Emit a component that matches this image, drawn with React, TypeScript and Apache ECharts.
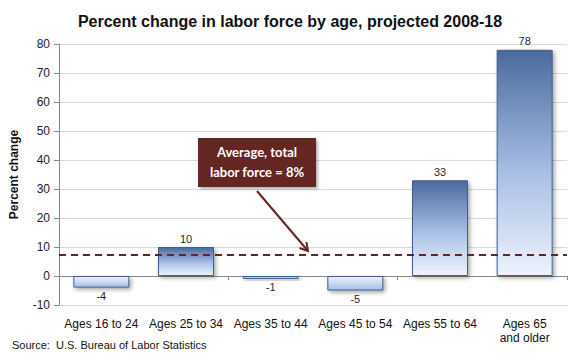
import React, { useEffect, useRef } from "react";
import * as echarts from "echarts";

const categories = ["Ages 16 to 24", "Ages 25 to 34", "Ages 35 to 44", "Ages 45 to 54", "Ages 55 to 64", "Ages 65\nand older"];
const values = [-4, 10, -1, -5, 33, 78];
const averageValue = 7.4;
const yTicks = { min: -10, max: 80, interval: 10 };

const posGradient = new echarts.graphic.LinearGradient(0, 0, 0, 1, [
  { offset: 0, color: "#4a6a9c" },
  { offset: 0.55, color: "#a9c0e6" },
  { offset: 1, color: "#eef3fc" },
]);
const negGradient = new echarts.graphic.LinearGradient(0, 0, 0, 1, [
  { offset: 0, color: "#eef3fc" },
  { offset: 0.5, color: "#c9d8f2" },
  { offset: 1, color: "#a9bde0" },
]);

export default function App() {
  const ref = useRef<HTMLDivElement>(null);
  useEffect(() => {
    document.body.style.margin = "0";
    const chart = echarts.init(ref.current!, null, { renderer: "svg" });
    const font = "'Liberation Sans', Arial, sans-serif";
    chart.setOption({
      animation: false,
      title: {
        text: "Percent change in labor force by age, projected 2008-18",
        left: "center",
        top: 8,
        textStyle: { fontFamily: font, fontSize: 16, fontWeight: "bold", color: "#111" },
      },
      grid: { left: 59, right: 13, top: 44, bottom: 55 },
      xAxis: [
        {
          type: "category",
          data: categories,
          axisLine: { onZero: true, lineStyle: { color: "#8a8a8a", width: 1 } },
          axisTick: { show: true, length: 4, lineStyle: { color: "#8a8a8a" } },
          axisLabel: { show: false },
        },
        {
          type: "category",
          data: categories,
          position: "bottom",
          axisLine: { show: false, onZero: false },
          axisTick: { show: false },
          axisLabel: { fontFamily: font, fontSize: 12, color: "#111", margin: 12, lineHeight: 14, interval: 0 },
        },
      ],
      yAxis: {
        type: "value",
        min: yTicks.min,
        max: yTicks.max,
        interval: yTicks.interval,
        name: "Percent change",
        nameLocation: "middle",
        nameRotate: 90,
        nameGap: 39,
        nameTextStyle: { fontFamily: font, fontSize: 12, fontWeight: "bold", color: "#111" },
        axisLine: { show: true, lineStyle: { color: "#8a8a8a" } },
        axisTick: { show: true, length: 5, lineStyle: { color: "#8a8a8a" } },
        axisLabel: { fontFamily: font, fontSize: 12, color: "#222", margin: 9 },
        splitLine: { lineStyle: { color: "#d9d9d9" } },
      },
      series: [
        {
          type: "bar",
          xAxisIndex: 0,
          barWidth: 56,
          data: values.map((v) => ({
            value: v,
            itemStyle: { color: v >= 0 ? posGradient : negGradient },
            label: { position: v >= 0 ? "top" : "bottom" },
          })),
          itemStyle: {
            borderColor: "#3f5d8c",
            borderWidth: 1,
            shadowColor: "rgba(0,0,0,0.35)",
            shadowBlur: 4,
            shadowOffsetX: 2,
            shadowOffsetY: 2,
          },
          label: { show: true, distance: 3, fontFamily: font, fontSize: 11, color: "#1f1f3a" },
          markLine: {
            silent: true,
            symbol: "none",
            label: { show: false },
            lineStyle: { color: "#632523", width: 2, type: [7, 5] },
            data: [{ yAxis: averageValue }],
          },
        },
      ],
      graphic: [
        {
          type: "rect",
          z: 100,
          shape: { x: 198, y: 138, width: 118, height: 49 },
          style: { fill: "#632523", shadowColor: "rgba(0,0,0,0.3)", shadowBlur: 3, shadowOffsetX: 2, shadowOffsetY: 2 },
        },
        {
          type: "text",
          z: 101,
          x: 257,
          y: 162,
          style: {
            text: "Average, total\nlabor force = 8%",
            fill: "#ffffff",
            font: "bold 13px Lato, 'Open Sans', sans-serif",
            align: "center",
            verticalAlign: "middle",
            lineHeight: 20,
          },
        },
        {
          type: "line",
          z: 100,
          shape: { x1: 257, y1: 191, x2: 308, y2: 251 },
          style: { stroke: "#632523", lineWidth: 2 },
        },
        {
          type: "polyline",
          z: 100,
          shape: { points: [[306.4, 242.1], [308, 251], [299.5, 248]] },
          style: { stroke: "#632523", lineWidth: 2, fill: null },
        },
        {
          type: "text",
          left: 12,
          top: 339,
          style: {
            text: "Source:  U.S. Bureau of Labor Statistics",
            fill: "#111",
            font: "11px 'Liberation Sans', Arial, sans-serif",
          },
        },
      ],
    });
    return () => chart.dispose();
  }, []);
  return <div ref={ref} style={{ width: 580, height: 360 }} />;
}
